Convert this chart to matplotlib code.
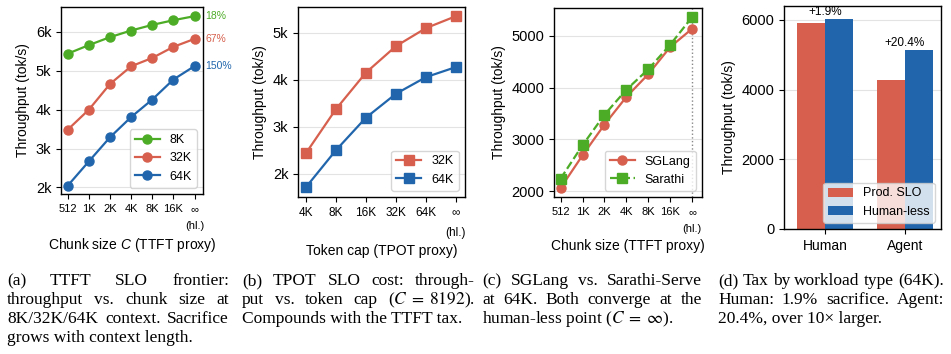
import matplotlib
matplotlib.use('Agg')
import matplotlib.pyplot as plt
from matplotlib.ticker import FuncFormatter
import numpy as np

# ---- data ----
chunk_labels = ['512', '1K', '2K', '4K', '8K', '16K', '∞\n(hl.)']
tp_8k = [5440, 5660, 5865, 6035, 6180, 6300, 6405]
tp_32k = [3485, 4000, 4660, 5115, 5330, 5615, 5820]
tp_64k = [2045, 2670, 3290, 3810, 4260, 4775, 5120]
ctx_names = ['8K', '32K', '64K']
gain_labels = ['18%', '67%', '150%']

cap_labels = ['4K', '8K', '16K', '32K', '64K', '∞\n(hl.)']
cap_32k = [2430, 3370, 4150, 4715, 5100, 5355]
cap_64k = [1705, 2495, 3190, 3700, 4055, 4270]

sglang = [2060, 2690, 3285, 3820, 4260, 4785, 5140]
sarathi = [2240, 2885, 3475, 3960, 4355, 4830, 5365]

workloads = ['Human', 'Agent']
prod_slo = [5920, 4270]
human_less = [6030, 5140]
tax_labels = ['+1.9%', '+20.4%']

# caption lines, split into the words that get justified
captions = [
    [['(a)', 'TTFT', 'SLO', 'frontier:'],
     ['throughput', 'vs.', 'chunk', 'size', 'at'],
     ['8K/32K/64K', 'context.', 'Sacrifice'],
     'grows with context length.'],
    [['(b)', 'TPOT', 'SLO', 'cost:', 'through-'],
     ['put', 'vs.', 'token', 'cap', '($C\\;=\\;8192$).'],
     'Compounds with the TTFT tax.'],
    [['(c)', 'SGLang', 'vs.', 'Sarathi-Serve'],
     ['at', '64K.', 'Both', 'converge', 'at', 'the'],
     'human-less point ($C\\;=\\;\\infty$).'],
    [['(d)', 'Tax', 'by', 'workload', 'type', '(64K).'],
     ['Human:', '1.9%', 'sacrifice.', 'Agent:'],
     '20.4%, over 10× larger.'],
]

RED = '#d6604d'
BLUE = '#2166ac'
GREEN = '#4dac26'

plt.rcParams['font.family'] = ['Liberation Sans', 'DejaVu Sans']
plt.rcParams['mathtext.fontset'] = 'custom'
plt.rcParams['mathtext.rm'] = 'Liberation Sans'
plt.rcParams['mathtext.it'] = 'Liberation Sans:italic'
plt.rcParams['axes.linewidth'] = 1.0
plt.rcParams['xtick.major.size'] = 3.5
plt.rcParams['ytick.major.size'] = 3.5

W, H = 951, 354
fig = plt.figure(figsize=(W / 100, H / 100), dpi=100)


def box(left, top, right, bottom):
    return [left / W, 1 - bottom / H, (right - left) / W, (bottom - top) / H]


ax_a = fig.add_axes(box(61, 7, 203, 194))
ax_b = fig.add_axes(box(298, 7, 465, 197))
ax_c = fig.add_axes(box(554, 8, 702, 197))
ax_d = fig.add_axes(box(784, 6, 941, 229))

kfmt = FuncFormatter(lambda v, p: '{:.0f}k'.format(v / 1000))


def style(ax):
    ax.grid(axis='y', color='#e3e3e3', linewidth=0.8)
    ax.set_axisbelow(True)
    ax.tick_params(axis='y', labelsize=10.5)


# ---- (a) ----
xa = np.arange(len(chunk_labels))
for vals, name, col, g in zip([tp_8k, tp_32k, tp_64k], ctx_names,
                              [GREEN, RED, BLUE], gain_labels):
    ax_a.plot(xa, vals, '-o', color=col, lw=1.6, ms=6.5, label=name)
    ax_a.annotate(g, xy=(xa[-1], vals[-1]), xytext=(8, 0),
                  textcoords='offset points', va='center', ha='left',
                  color=col, fontsize=7.5, annotation_clip=False)
style(ax_a)
ax_a.set_xticks(xa)
ax_a.set_xticklabels(chunk_labels, fontsize=8)
ax_a.set_xlim(-0.32, 6.4)
ax_a.set_ylim(1830, 6640)
ax_a.set_yticks([2000, 3000, 4000, 5000, 6000])
ax_a.yaxis.set_major_formatter(kfmt)
ax_a.set_ylabel('Throughput (tok/s)', fontsize=10)
ax_a.set_xlabel('Chunk size $C$ (TTFT proxy)', fontsize=10)
ax_a.legend(loc='lower right', fontsize=9)

# ---- (b) ----
xb = np.arange(len(cap_labels))
ax_b.plot(xb, cap_32k, '-s', color=RED, lw=1.6, ms=6.5, label='32K')
ax_b.plot(xb, cap_64k, '-s', color=BLUE, lw=1.6, ms=6.5, label='64K')
style(ax_b)
ax_b.set_xticks(xb)
ax_b.set_xticklabels(cap_labels, fontsize=8.5)
ax_b.set_xlim(-0.26, 5.3)
ax_b.set_ylim(1500, 5550)
ax_b.set_yticks([2000, 3000, 4000, 5000])
ax_b.yaxis.set_major_formatter(kfmt)
ax_b.set_ylabel('Throughput (tok/s)', fontsize=10)
ax_b.set_xlabel('Token cap (TPOT proxy)', fontsize=10)
ax_b.legend(loc='lower right', fontsize=9)

# ---- (c) ----
ax_c.plot(xa, sglang, '-o', color=RED, lw=1.6, ms=6.5, label='SGLang')
ax_c.plot(xa, sarathi, '--s', color=GREEN, lw=1.6, ms=6.5, label='Sarathi')
ax_c.axvline(xa[-1], color='#888888', ls=':', lw=1.0, zorder=0)
style(ax_c)
ax_c.set_xticks(xa)
ax_c.set_xticklabels(chunk_labels, fontsize=8)
ax_c.set_xlim(-0.3, 6.45)
ax_c.set_ylim(1885, 5540)
ax_c.set_yticks([2000, 3000, 4000, 5000])
ax_c.set_ylabel('Throughput (tok/s)', fontsize=10)
ax_c.set_xlabel('Chunk size (TTFT proxy)', fontsize=10)
ax_c.legend(loc='lower right', fontsize=9)

for ax in (ax_a, ax_b, ax_c):
    for t in ax.get_xticklabels():
        t.set_linespacing(1.9)

# ---- (d) ----
xd = np.arange(len(workloads))
bw = 0.35
ax_d.bar(xd - bw / 2, prod_slo, bw, color=RED, label='Prod. SLO')
ax_d.bar(xd + bw / 2, human_less, bw, color=BLUE, label='Human-less')
for i, lab in enumerate(tax_labels):
    ax_d.text(xd[i], max(prod_slo[i], human_less[i]) + 20, lab,
              ha='center', va='bottom', fontsize=8.5)
style(ax_d)
ax_d.set_xticks(xd)
ax_d.set_xticklabels(workloads, fontsize=10)
ax_d.set_xlim(-0.51, 1.45)
ax_d.set_ylim(0, 6400)
ax_d.set_yticks([0, 2000, 4000, 6000])
ax_d.set_ylabel('Throughput (tok/s)', fontsize=10)
ax_d.legend(loc='lower right', fontsize=9)

# ---- captions (justified like the paper) ----
renderer = fig.canvas.get_renderer()
cols = [(7, 229), (242, 475), (482, 702), (718, 944)]
baselines = [285, 304, 323, 342]
cap_kw = dict(fontsize=12.5, family=['Liberation Serif', 'DejaVu Serif'],
              math_fontfamily='stix', va='baseline', ha='left')

for lines, (x0, x1) in zip(captions, cols):
    for j, line in enumerate(lines):
        y = 1 - baselines[j] / H
        if isinstance(line, str):
            # last line: left aligned, not stretched
            fig.text(x0 / W, y, line, **cap_kw)
            continue
        arts = [fig.text(0, y, w, **cap_kw) for w in line]
        widths = [a.get_window_extent(renderer).width for a in arts]
        gap = (x1 - x0 - sum(widths)) / (len(line) - 1)
        x = x0
        for a, w in zip(arts, widths):
            a.set_x(x / W)
            x += w + gap

fig.savefig('out.png', dpi=100)
